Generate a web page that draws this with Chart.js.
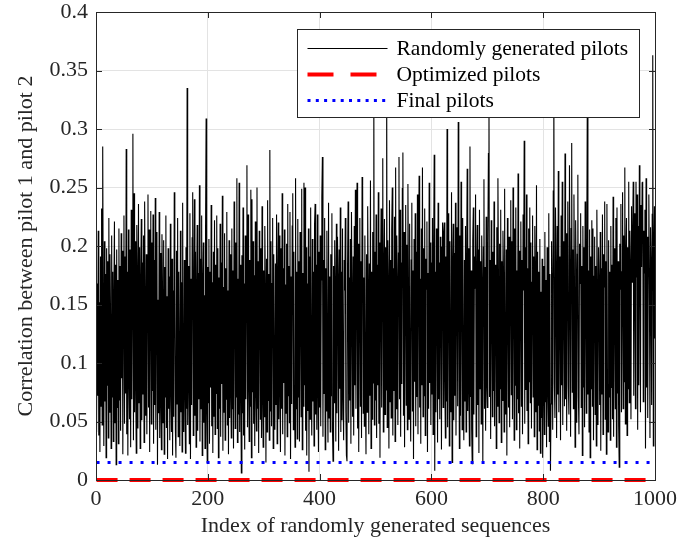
<!DOCTYPE html>
<html>
<head>
<meta charset="utf-8">
<script src="https://cdn.jsdelivr.net/npm/chart.js@4.4.1/dist/chart.umd.min.js"></script>
<style>
  html, body { margin: 0; padding: 0; background: #fff; }
  #chart { display: block; }
</style>
</head>
<body>
<canvas id="chart" width="680" height="548"></canvas>
<script>
/* ---- data ---- */
const seriesNames = ['Randomly generated pilots', 'Optimized pilots', 'Final pilots'];

// correlation of each randomly generated sequence (index 1..1000)
const randomCorr = [
  .041,.168,.072,.213,.038,.152,.024,.191,.063,.232,.047,.285,.138,.029,.204,.067,.176,.019,.198,.081,
  .187,.036,.224,.058,.193,.142,.027,.209,.071,.178,.033,.156,.221,.049,.184,.013,.197,.062,.171,.031,
  .215,.068,.183,.042,.211,.087,.196,.022,.164,.226,.048,.191,.074,.283,.039,.178,.021,.214,.089,.052,
  .197,.028,.231,.069,.163,.296,.034,.245,.058,.204,.083,.023,.218,.172,.044,.236,.066,.199,.027,.168,
  .223,.051,.186,.073,.209,.032,.238,.148,.055,.193,.039,.176,.244,.062,.214,.024,.161,.230,.048,.203,
  .076,.227,.031,.188,.064,.241,.043,.171,.212,.013,.154,.057,.229,.036,.194,.068,.026,.210,.163,.049,
  .205,.022,.182,.071,.226,.045,.157,.018,.198,.061,.174,.034,.219,.078,.041,.189,.021,.162,.054,.246,
  .167,.043,.019,.196,.065,.224,.037,.178,.083,.029,.213,.058,.169,.024,.237,.072,.041,.188,.079,.023,
  .199,.061,.335,.047,.183,.086,.031,.228,.018,.172,.064,.207,.246,.038,.152,.240,.055,.195,.028,.163,
  .218,.042,.177,.069,.252,.033,.189,.061,.226,.021,.168,.203,.049,.158,.027,.214,.309,.057,.015,.182,
  .066,.206,.031,.178,.079,.235,.046,.169,.023,.195,.054,.222,.039,.184,.074,.226,.044,.198,.019,.173,
  .061,.219,.037,.186,.082,.243,.025,.165,.058,.211,.034,.181,.069,.229,.047,.162,.022,.205,.053,.193,
  .074,.036,.215,.061,.179,.027,.238,.158,.044,.203,.071,.258,.032,.172,.056,.254,.041,.184,.078,.006,
  .192,.057,.233,.038,.168,.026,.209,.069,.181,.269,.045,.227,.084,.033,.188,.063,.248,.019,.240,.075,
  .204,.048,.175,.029,.221,.079,.042,.250,.061,.187,.023,.213,.164,.052,.198,.036,.234,.071,.028,.179,
  .054,.217,.162,.015,.189,.041,.239,.068,.176,.034,.282,.059,.204,.046,.168,.224,.027,.193,.073,.043,
  .185,.064,.227,.031,.172,.220,.052,.209,.078,.024,.198,.061,.245,.039,.181,.083,.214,.021,.167,.057,
  .202,.037,.236,.072,.183,.049,.229,.018,.174,.065,.217,.245,.043,.195,.079,.028,.258,.061,.178,.035,
  .223,.071,.187,.033,.212,.164,.054,.249,.026,.177,.063,.254,.081,.250,.042,.199,.021,.168,.059,.215,
  .007,.191,.052,.233,.084,.038,.206,.067,.178,.029,.219,.236,.056,.184,.043,.227,.079,.024,.195,.062,
  .209,.046,.171,.242,.276,.037,.188,.074,.224,.026,.181,.059,.213,.085,.032,.237,.053,.174,.041,.193,
  .072,.228,.044,.016,.183,.066,.205,.164,.033,.219,.057,.208,.172,.025,.197,.078,.233,.041,.178,.051,
  .215,.073,.034,.188,.162,.224,.058,.021,.016,.182,.238,.049,.173,.068,.206,.031,.229,.159,.054,.191,
  .038,.217,.081,.248,.061,.179,.254,.044,.202,.024,.168,.224,.063,.187,.036,.259,.252,.057,.173,.046,
  .209,.077,.022,.193,.058,.234,.167,.039,.185,.072,.256,.027,.178,.052,.212,.083,.330,.047,.195,.068,
  .227,.036,.184,.081,.246,.048,.203,.019,.169,.232,.062,.191,.275,.041,.178,.223,.056,.199,.077,.340,
  .045,.205,.163,.027,.239,.067,.188,.053,.214,.250,.038,.181,.076,.225,.033,.267,.061,.209,.169,.047,
  .194,.276,.069,.231,.037,.186,.082,.249,.280,.055,.212,.028,.177,.235,.064,.201,.043,.253,.166,.052,
  .219,.078,.033,.188,.237,.059,.179,.018,.206,.084,.228,.046,.195,.071,.244,.039,.184,.260,.062,.172,
  .031,.215,.081,.267,.054,.198,.072,.232,.038,.189,.163,.221,.024,.177,.061,.254,.083,.203,.047,.186,
  .073,.224,.039,.193,.278,.008,.178,.058,.215,.163,.032,.237,.069,.186,.052,.208,.171,.026,.199,.220,
  .062,.212,.220,.084,.036,.191,.067,.300,.045,.177,.228,.029,.204,.079,.058,.246,.015,.183,.219,.051,
  .194,.072,.237,.038,.181,.216,.063,.306,.162,.027,.209,.055,.255,.173,.043,.224,.082,.034,.188,.067,
  .217,.041,.182,.266,.059,.198,.079,.029,.285,.071,.179,.044,.014,.205,.233,.056,.191,.164,.244,.037,
  .175,.218,.064,.197,.023,.231,.078,.187,.048,.209,.168,.014,.199,.257,.061,.182,.042,.225,.083,.062,
  .203,.279,.330,.071,.188,.035,.222,.167,.054,.195,.076,.238,.046,.184,.169,.027,.216,.063,.258,.174,
  .049,.202,.078,.231,.032,.187,.068,.213,.178,.041,.249,.082,.056,.197,.021,.224,.165,.062,.208,.045,
  .184,.239,.073,.204,.052,.250,.167,.034,.215,.081,.233,.043,.179,.069,.262,.057,.196,.027,.173,.221,
  .063,.188,.039,.227,.162,.290,.048,.199,.077,.244,.059,.181,.031,.215,.084,.233,.066,.203,.044,.169,
  .226,.071,.191,.037,.217,.173,.058,.252,.026,.195,.064,.178,.042,.206,.023,.161,.053,.189,.019,.074,
  .183,.039,.212,.067,.171,.028,.199,.079,.046,.228,.033,.176,.008,.065,.204,.162,.043,.247,.350,.082,
  .053,.233,.179,.036,.217,.073,.264,.058,.191,.168,.034,.226,.081,.255,.047,.204,.172,.063,.279,.069,
  .211,.042,.188,.238,.081,.056,.269,.176,.037,.215,.288,.075,.197,.061,.244,.165,.028,.222,.177,.049,
  .193,.261,.071,.039,.202,.168,.228,.062,.183,.021,.217,.079,.199,.045,.238,.162,.057,.204,.340,.073,
  .179,.041,.214,.019,.191,.078,.222,.063,.215,.034,.174,.208,.056,.183,.029,.231,.157,.047,.199,.168,
  .064,.212,.025,.181,.073,.227,.039,.193,.165,.238,.052,.187,.022,.236,.082,.041,.205,.071,.178,.034,
  .217,.079,.184,.052,.242,.037,.198,.169,.061,.224,.028,.233,.074,.187,.046,.011,.202,.163,.236,.058,
  .178,.246,.061,.209,.084,.267,.048,.191,.224,.038,.199,.078,.255,.066,.213,.181,.052,.234,.169,.206,
  .255,.072,.228,.187,.061,.255,.173,.244,.043,.217,.081,.269,.199,.058,.235,.182,.254,.255,.067,.213,
  .177,.231,.027,.258,.079,.208,.053,.189,.244,.167,.036,.216,.183,.064,.227,.363,.029,.195,.234,.121
];
const optimizedCorr = 0;      // constant over all indices
const finalCorr     = 0.015;  // constant over all indices

const xTickValues = [0, 200, 400, 600, 800, 1000];
const yTickValues = [0, 0.05, 0.1, 0.15, 0.2, 0.25, 0.3, 0.35, 0.4];

/* ---- build points ---- */
const randomPts = randomCorr.map((v, i) => ({ x: i + 1, y: v }));
const optimizedPts = [{ x: 1, y: optimizedCorr }, { x: randomCorr.length, y: optimizedCorr }];
const finalPts     = [{ x: 1, y: finalCorr },     { x: randomCorr.length, y: finalCorr }];

const FONT = "'Liberation Serif', 'Times New Roman', serif";
const AXIS_COLOR = '#262626';

// box around the axes, inward ticks and a MATLAB-like legend
const framePlugin = {
  id: 'frame',
  afterDatasetsDraw(chart) {
    const { ctx, chartArea: a, scales: { x, y } } = chart;
    ctx.save();
    ctx.strokeStyle = AXIS_COLOR;
    ctx.lineWidth = 1;
    ctx.setLineDash([]);
    ctx.strokeRect(Math.round(a.left) + .5, Math.round(a.top) + .5,
                   Math.round(a.right - a.left), Math.round(a.bottom - a.top));
    ctx.beginPath();
    x.ticks.forEach(t => {
      const px = Math.round(x.getPixelForValue(t.value)) + .5;
      ctx.moveTo(px, a.bottom); ctx.lineTo(px, a.bottom - 6);
      ctx.moveTo(px, a.top);    ctx.lineTo(px, a.top + 6);
    });
    y.ticks.forEach(t => {
      const py = Math.round(y.getPixelForValue(t.value)) + .5;
      ctx.moveTo(a.left, py);  ctx.lineTo(a.left + 6, py);
      ctx.moveTo(a.right, py); ctx.lineTo(a.right - 6, py);
    });
    ctx.stroke();

    // legend
    const lx = Math.round(a.right - 358) + .5, ly = Math.round(a.top + 17) + .5;
    const w = 342, h = 88;
    ctx.fillStyle = '#fff';
    ctx.fillRect(lx, ly, w, h);
    ctx.strokeStyle = AXIS_COLOR;
    ctx.strokeRect(lx, ly, w, h);

    const styles = [
      { color: '#000', width: 1.2, dash: [] },
      { color: '#ff0000', width: 4, dash: [26, 17] },
      { color: '#0000ff', width: 3, dash: [3, 5.3] },
    ];
    ctx.font = `21.5px ${FONT}`;
    ctx.textBaseline = 'middle';
    seriesNames.forEach((name, i) => {
      const ry = ly + 19 + i * 26;
      const s = styles[i];
      ctx.beginPath();
      ctx.strokeStyle = s.color;
      ctx.lineWidth = s.width;
      ctx.setLineDash(s.dash);
      ctx.moveTo(lx + 10, ry); ctx.lineTo(lx + 90, ry);
      ctx.stroke();
      ctx.setLineDash([]);
      ctx.fillStyle = '#000';
      ctx.fillText(name, lx + 99, ry + 1);
    });
    ctx.restore();
  }
};

new Chart(document.getElementById('chart'), {
  type: 'line',
  data: {
    datasets: [
      { label: seriesNames[0], data: randomPts, borderColor: '#000', borderWidth: 1.1,
        pointRadius: 0, tension: 0, order: 3 },
      { label: seriesNames[1], data: optimizedPts, borderColor: '#ff0000', borderWidth: 4,
        borderDash: [21, 12], pointRadius: 0, order: 2, clip: 4 },
      { label: seriesNames[2], data: finalPts, borderColor: '#0000ff', borderWidth: 3,
        borderDash: [3, 8], pointRadius: 0, order: 1 },
    ],
  },
  options: {
    responsive: false,
    animation: false,
    devicePixelRatio: 1,
    layout: { padding: { top: 12, right: 25, left: 0, bottom: 0 } },
    plugins: { legend: { display: false }, tooltip: { enabled: false } },
    scales: {
      x: {
        type: 'linear', min: 0, max: 1000,
        afterBuildTicks: s => { s.ticks = xTickValues.map(v => ({ value: v })); },
        afterFit: s => { s.height = 68; s.paddingRight = 0; s.paddingLeft = 0; },
        grid: { color: '#e3e3e3', drawTicks: false },
        border: { display: false },
        ticks: { color: AXIS_COLOR, font: { family: FONT, size: 22 }, padding: 6, maxRotation: 0,
                 callback: v => String(v) },
        title: { display: true, text: 'Index of randomly generated sequences', color: AXIS_COLOR,
                 font: { family: FONT, size: 22 }, padding: { top: 0, bottom: 9 } },
      },
      y: {
        min: 0, max: 0.4,
        afterBuildTicks: s => { s.ticks = yTickValues.map(v => ({ value: v })); },
        afterFit: s => { s.width = 96; s.paddingTop = 0; s.paddingBottom = 0; },
        grid: { color: '#e3e3e3', drawTicks: false },
        border: { display: false },
        ticks: { color: AXIS_COLOR, font: { family: FONT, size: 22 }, padding: 8,
                 callback: v => String(+v.toFixed(2)) },
        title: { display: true, text: 'Correlation between pilot 1 and pilot 2', color: AXIS_COLOR,
                 font: { family: FONT, size: 22 }, padding: { top: 13, bottom: 0 } },
      },
    },
  },
  plugins: [framePlugin],
});
</script>
</body>
</html>
